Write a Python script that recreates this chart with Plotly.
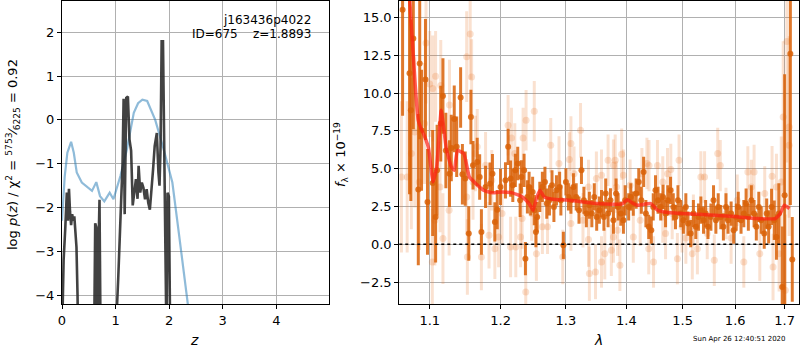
import plotly.graph_objects as go

# ---------------- left panel: p(z) ----------------
pz_z = [0.00, 0.03, 0.06, 0.09, 0.11, 0.13, 0.15, 0.17, 0.19, 0.21, 0.23, 0.25, 0.27, 0.29, 0.30,
        0.60, 0.62, 0.64, 0.66, 0.68, 0.70, 0.72,
        1.00, 1.05, 1.10, 1.13, 1.15, 1.17, 1.20, 1.23, 1.26, 1.29, 1.32, 1.35, 1.38, 1.41, 1.43,
        1.46, 1.49, 1.52, 1.55, 1.58, 1.61, 1.64, 1.67, 1.70, 1.73, 1.77, 1.80, 1.82, 1.84, 1.86,
        1.885, 1.91, 1.93, 1.95, 1.97, 1.995, 2.02]
pz_logp = [-5.0, -3.2, -2.5, -1.66, -2.3, -1.57, -2.1, -2.4, -2.15, -2.3, -2.2, -2.65, -2.9, -4.0, -5.0,
           -5.0, -2.36, -2.45, -5.0, -3.0, -1.82, -5.0,
           -5.0, -3.6, -2.0, -1.0, 0.48, -2.15, 0.50, 0.53, -0.45, -0.7, -1.95, -1.65, -1.35, -1.8, -1.05,
           -1.66, -1.43, -1.55, -1.81, -1.58, -1.89, -2.05, -1.66, -1.13, -0.6, -0.3, -1.2, -1.5, -0.6, 1.79,
           1.79, -0.98, -4.0, -5.0, -1.66, -1.75, -5.0]

prior_z = [0.00, 0.05, 0.10, 0.17, 0.22, 0.275, 0.37, 0.46, 0.56, 0.64, 0.71, 0.79, 0.89, 0.96,
           1.09, 1.21, 1.34, 1.42, 1.50, 1.59, 1.74, 1.90, 2.06, 2.18, 2.34, 2.40]
prior_logp = [-2.3, -1.3, -0.75, -0.50, -0.75, -1.20, -1.43, -1.53, -1.62, -1.42, -1.74, -1.86, -1.66, -1.81,
              -1.28, -0.68, 0.16, 0.38, 0.46, 0.43, 0.0, -0.68, -1.43, -2.57, -4.16, -4.7]

pz_xticks = [0, 1, 2, 3, 4]
pz_yticks = [-4, -3, -2, -1, 0, 1, 2]

# ---------------- right panel: spectrum ----------------
dark_lam = [1.064, 1.0731, 1.0748, 1.0781, 1.0847, 1.0866, 1.089, 1.0943, 1.097, 1.104, 1.108, 1.110,
            1.115, 1.118, 1.122, 1.127, 1.1295, 1.1336, 1.137, 1.1425, 1.145, 1.149, 1.154, 1.157,
            1.160, 1.166, 1.1695, 1.172, 1.178, 1.1845, 1.188, 1.1915, 1.195,
            1.1998, 1.2071, 1.2111, 1.2147, 1.218, 1.2218, 1.2254, 1.229, 1.231, 1.235, 1.237, 1.240,
            1.2426, 1.245, 1.248, 1.2505, 1.253, 1.255, 1.259, 1.263, 1.267, 1.2698, 1.274, 1.278,
            1.281, 1.285, 1.290, 1.292, 1.296, 1.300, 1.304, 1.308, 1.312, 1.3165, 1.321, 1.325,
            1.329, 1.333, 1.338, 1.342, 1.346, 1.350, 1.3545,
            1.358, 1.362, 1.365, 1.369, 1.373, 1.378, 1.3825, 1.386, 1.3905, 1.395, 1.398, 1.404,
            1.4077, 1.412, 1.417, 1.4215, 1.426, 1.430, 1.434, 1.439, 1.4435, 1.447, 1.451, 1.4555,
            1.4603, 1.4645, 1.469, 1.473, 1.478, 1.483, 1.487, 1.4915, 1.4965, 1.5015, 1.506, 1.510,
            1.515, 1.520, 1.5245, 1.5295, 1.534,
            1.539, 1.543, 1.5475, 1.553, 1.558, 1.5625, 1.567, 1.572, 1.577, 1.582, 1.586, 1.592,
            1.597, 1.602, 1.606, 1.6115, 1.617, 1.6215, 1.626, 1.632, 1.6375, 1.642, 1.647, 1.652,
            1.658, 1.663, 1.667, 1.673, 1.6785, 1.683, 1.688, 1.695, 1.700, 1.712, 1.716]
dark_flux = [15.5, 11.3, 8.86, 13.6, 3.62, 11.95, 7.54, 10.9, 2.8, 4.05, 1.8, 4.9,
             7.98, 9.8, 6.2, 4.67, 6.37, 8.29, 6.44, 9.7, 4.63, 4.34, 0.71, 8.42,
             5.22, 5.44, 4.45, 0.81, 3.79, 4.0, 4.67, 1.48, 2.29,
             3.79, 4.23, 6.44, 4.34, 3.9, 4.89, 5.34, 2.91, 4.45, 4.89, -0.95, 3.13,
             3.79, 2.91, 3.46, 2.25, 0.81, 1.8, 3.13, 3.79, 4.12, 2.69, 2.91, 3.9,
             2.47, 3.57, 3.79, 2.91, -0.07, 4.12, 3.13, 2.91, 3.79, 3.13, 2.25, 4.89,
             2.91, 2.03, 2.58, 2.03, 3.13, 1.8, 2.25,
             2.69, 1.8, 3.35, 2.03, 2.91, 1.59, 3.35, 2.47, 2.03, 1.59, 2.91, 2.47,
             3.13, 2.69, 3.35, 4.12, 2.91, 4.78, 2.03, 1.15, 0.93, 2.47, 3.57, 2.91,
             2.47, 3.13, 2.03, 2.91, 3.57, 2.47, 1.8, 2.91, 2.03, 1.59, 2.47, 1.37,
             0.71, 2.03, 1.15, 1.8, 2.25,
             1.59, 2.03, 1.15, 1.8, 2.91, 1.59, 2.47, 1.8, 1.15, 2.47, 1.59, 2.03,
             0.93, 1.8, 2.47, 1.59, 2.03, 2.69, 1.8, 2.91, 2.03, 1.15, 2.47, 1.59,
             0.71, 2.03, 1.15, 2.47, 1.59, 0.48, 2.03, -2.82, 3.24, 12.6, -1.0]
dark_err = [7.0, 8.0, 6.0, 6.0, 5.0, 5.0, 4.0, 4.0, 3.5, 3.5, 3.0, 3.0,
            2.5, 2.5, 2.5, 2.2, 2.2, 2.2, 2.0, 2.0, 2.0, 1.8, 1.8, 1.8,
            1.6, 1.6, 1.5, 1.5, 1.4, 1.4, 1.3, 1.3, 1.3,
            1.2, 1.2, 1.2, 1.2, 1.1, 1.1, 1.1, 1.1, 1.1, 1.1, 1.1, 1.1,
            1.0, 1.0, 1.0, 1.0, 1.0, 1.0, 1.0, 1.0, 1.0, 1.0, 1.0, 1.0,
            1.0, 1.0, 1.0, 1.0, 0.9, 0.9, 0.9, 0.9, 0.9, 0.9, 0.9, 0.9,
            0.9, 0.9, 0.9, 0.9, 0.9, 0.9, 0.9,
            0.9, 0.9, 1.0, 0.9, 0.8, 0.9, 1.0, 0.9, 0.8, 0.9, 1.0, 0.9,
            0.9, 0.8, 1.0, 0.9, 0.9, 1.0, 0.9, 0.8, 0.9, 0.9, 1.0, 0.9,
            0.9, 0.8, 0.9, 1.0, 0.9, 0.9, 0.8, 1.0, 0.9, 0.9, 0.9, 0.8,
            0.9, 0.9, 0.8, 0.9, 0.9,
            0.9, 0.9, 0.8, 0.9, 1.0, 0.9, 0.9, 0.8, 0.9, 0.9, 0.9, 0.8,
            0.9, 0.9, 1.0, 0.9, 0.9, 1.0, 0.9, 1.0, 0.9, 0.9, 1.0, 0.9,
            1.0, 1.0, 1.1, 1.2, 1.3, 1.5, 2.0, 4.0, 8.0, 10.0, 2.8]

light_lam = [1.0625, 1.070, 1.0755, 1.080, 1.086, 1.093, 1.095, 1.100, 1.1035, 1.104, 1.107, 1.108,
             1.114, 1.115, 1.118, 1.1265, 1.127, 1.151, 1.151, 1.152, 1.156, 1.158, 1.160, 1.1635,
             1.166, 1.172, 1.178, 1.183, 1.187, 1.1915, 1.197, 1.202, 1.211, 1.2147, 1.216, 1.221,
             1.2225, 1.2297, 1.232, 1.2335, 1.2375, 1.238, 1.2465, 1.2505, 1.2538, 1.263, 1.271, 1.276,
             1.289, 1.295, 1.3055, 1.308, 1.308, 1.313, 1.3235, 1.3275, 1.3365, 1.3365, 1.338, 1.348,
             1.3495, 1.358, 1.358, 1.3635, 1.369, 1.3745, 1.378, 1.378, 1.381, 1.383, 1.385, 1.389,
             1.392, 1.395, 1.4065, 1.412, 1.424, 1.427, 1.4358, 1.439, 1.4395, 1.4475, 1.4545, 1.464,
             1.464, 1.469, 1.4725, 1.4785, 1.481, 1.4905, 1.4935, 1.499, 1.506, 1.518, 1.520, 1.5275,
             1.534, 1.541, 1.546, 1.5595, 1.566, 1.571, 1.582, 1.592, 1.604, 1.617, 1.625, 1.632,
             1.6375, 1.649, 1.659, 1.674, 1.676, 1.683, 1.6885, 1.693, 1.697, 1.7015, 1.7047, 1.7095,
             1.7095]
light_flux = [4.45, 4.45, 6.0, 7.43, 4.12, 7.98, 13.3, 10.6, -1.17, 10.3, 1.59, 11.1,
              3.79, 10.5, 0.38, 2.25, 9.2, 12.4, 3.13, -0.84, 13.9, 11.06, 4.12, 6.0,
              6.44, -0.84, 5.22, 0.6, 4.23, -0.29, 0.48, 2.03, 7.87, -0.18, 7.03, 6.0,
              -0.18, 0.48, 1.7, 7.03, -3.15, 8.2, 2.03, 8.8, -0.62, 1.15, 1.15, 6.55,
              5.34, -0.84, 5.6, 6.66, 1.37, 4.67, 7.54, 1.59, 0.31, 3.79, -1.94, -1.83,
              4.34, 4.56, -1.17, -0.62, 5.56, -0.4, 5.22, 0.48, 5.56, 3.79, 0.93, -1.39,
              5.95, 4.56, 3.9, 0.48, 1.59, 4.67, 5.34, -0.29, 5.2, -1.17, 5.2, 4.12,
              1.8, 0.71, 4.67, 4.95, 2.03, -0.95, 5.56, 1.15, 0.41, -0.62, 1.59, -0.29,
              4.45, 4.45, 0.71, -1.06, 6.0, 5.2, 2.03, 0.41, 2.91, -1.17, 4.78, 3.79,
              4.78, -0.62, 3.35, 4.5, -1.5, 3.79, -0.62, 4.12, 8.42, -3.04, 13.4, 7.76,
              6.55]
light_err = [5.0, 5.0, 5.0, 5.0, 4.5, 4.0, 4.0, 3.5, 3.5, 3.5, 3.0, 3.0,
             3.0, 3.0, 3.0, 3.0, 3.0, 3.0, 2.5, 2.5, 3.0, 2.5, 2.5, 2.5,
             2.5, 2.2, 2.2, 2.2, 2.0, 2.0, 2.0, 2.0, 2.0, 2.0, 2.0, 2.0,
             2.0, 2.0, 2.0, 2.0, 2.0, 2.0, 1.8, 2.0, 1.8, 1.8, 1.8, 1.8,
             1.8, 1.8, 1.8, 1.8, 1.8, 1.8, 1.8, 1.8, 1.8, 1.8, 1.8, 1.8,
             1.8, 1.7, 1.7, 1.7, 1.7, 1.7, 1.7, 1.7, 1.7, 1.7, 1.7, 1.7,
             1.7, 1.7, 1.7, 1.7, 1.7, 1.7, 1.7, 1.7, 1.7, 1.7, 1.7, 1.7,
             1.7, 1.7, 1.7, 1.7, 1.7, 1.7, 1.7, 1.7, 1.7, 1.7, 1.7, 1.7,
             1.7, 1.7, 1.7, 1.7, 1.7, 1.7, 1.7, 1.7, 1.7, 1.7, 1.7, 1.8,
             1.8, 1.8, 1.8, 2.0, 2.2, 2.2, 2.5, 3.0, 5.0, 5.0, 8.0, 6.0,
             6.0]

model_lam = [1.0700, 1.0737, 1.0805, 1.0846, 1.0888, 1.0917, 1.0982, 1.1045, 1.1094, 1.1156, 1.1183,
             1.1227, 1.1296, 1.1337, 1.1380, 1.1470, 1.1548, 1.1642, 1.1750, 1.1879, 1.2025, 1.2173,
             1.2323, 1.2425, 1.2487, 1.2538, 1.2590, 1.2657, 1.2790, 1.3060, 1.3500, 1.3840, 1.3930,
             1.4017, 1.4104, 1.4191, 1.4427, 1.4547, 1.4730, 1.5290, 1.5910, 1.6433, 1.6805, 1.6909,
             1.6993, 1.7100]
model_flux = [19.0, 15.9, 10.6, 8.2, 7.6, 7.3, 6.4, 4.12, 5.11, 8.86, 7.98,
              6.3, 5.11, 4.89, 6.2, 6.0, 4.45, 4.0, 3.57, 3.4, 3.46, 3.4,
              3.13, 2.69, 2.25, 3.02, 3.57, 3.13, 2.98, 2.91, 2.69, 2.65, 2.67,
              2.95, 2.73, 2.58, 2.69, 2.25, 2.1, 1.98, 1.85, 1.7, 1.7, 2.03,
              2.58, 2.36]

sp_xticks = [1.1, 1.2, 1.3, 1.4, 1.5, 1.6, 1.7]
sp_xticklabels = ["1.1", "1.2", "1.3", "1.4", "1.5", "1.6", "1.7"]
sp_yticks = [-2.5, 0.0, 2.5, 5.0, 7.5, 10.0, 12.5, 15.0]
sp_yticklabels = ["\u22122.5", "0.0", "2.5", "5.0", "7.5", "10.0", "12.5", "15.0"]

DARK = "rgba(217,98,8,0.85)"
LIGHT = "rgba(230,120,40,0.22)"

fig = go.Figure()

fig.add_trace(go.Scatter(x=prior_z, y=prior_logp, mode="lines",
                         line=dict(color="rgba(31,119,180,0.5)", width=2.2),
                         xaxis="x", yaxis="y", showlegend=False))
fig.add_trace(go.Scatter(x=pz_z, y=pz_logp, mode="lines",
                         line=dict(color="rgba(40,40,40,0.88)", width=2.6),
                         xaxis="x", yaxis="y", showlegend=False))

fig.add_trace(go.Scatter(x=light_lam, y=light_flux, mode="markers",
                         marker=dict(color=LIGHT, size=7),
                         error_y=dict(type="data", array=light_err, color=LIGHT, thickness=3, width=0),
                         xaxis="x2", yaxis="y2", showlegend=False))
fig.add_trace(go.Scatter(x=dark_lam, y=dark_flux, mode="markers",
                         marker=dict(color=DARK, size=6),
                         error_y=dict(type="data", array=dark_err, color=DARK, thickness=3, width=0),
                         xaxis="x2", yaxis="y2", showlegend=False))
fig.add_trace(go.Scatter(x=model_lam, y=model_flux, mode="lines",
                         line=dict(color="rgba(255,30,20,0.7)", width=3.5, shape="spline", smoothing=0.4),
                         xaxis="x2", yaxis="y2", showlegend=False))

axcommon = dict(showgrid=True, gridcolor="#b0b0b0", gridwidth=1, showline=True, linecolor="black",
                linewidth=1.2, mirror=True, ticks="outside", ticklen=4, tickcolor="black",
                zeroline=False, automargin=False,
                tickfont=dict(family="DejaVu Sans", size=13, color="black"))

fig.update_layout(
    width=800, height=350,
    margin=dict(l=0, r=0, t=0, b=0, autoexpand=False),
    paper_bgcolor="white", plot_bgcolor="white",
    font=dict(family="DejaVu Sans", size=13, color="black"),
    xaxis=dict(domain=[0.0775, 0.411], range=[0, 4.98], tickvals=pz_xticks, anchor="y", **axcommon),
    yaxis=dict(domain=[0.1314, 0.997], range=[-4.2, 2.71], tickvals=pz_yticks,
               ticktext=["\u22124", "\u22123", "\u22122", "\u22121", "0", "1", "2"], anchor="x", **axcommon),
    xaxis2=dict(domain=[0.4991, 0.9991], type="log", range=[0.02518, 0.23825], tickvals=sp_xticks,
                ticktext=sp_xticklabels, anchor="y2", **axcommon),
    yaxis2=dict(domain=[0.1314, 0.997], range=[-3.95, 16.08], tickvals=sp_yticks,
                ticktext=sp_yticklabels, anchor="x2", **axcommon),
    shapes=[dict(type="line", xref="x2 domain", x0=0, x1=1, yref="y2", y0=0, y1=0,
                 line=dict(color="black", width=1.6, dash="dot"))],
)

ann = []
ann.append(dict(text="j163436p4022", xref="paper", yref="paper", x=313/800, y=1-20/350,
                xanchor="right", yanchor="middle", showarrow=False, font=dict(size=12)))
ann.append(dict(text="ID=675    z=1.8893", xref="paper", yref="paper", x=313/800, y=1-34/350,
                xanchor="right", yanchor="middle", showarrow=False, font=dict(size=12)))
ann.append(dict(text="log <i>p</i>(<i>z</i>) / \u03c7<sup>2</sup> = <sup>5753</sup>\u2044<sub>6225</sub> = 0.92",
                xref="paper", yref="paper", x=13/800, y=1-155/350, textangle=-90,
                xanchor="center", yanchor="middle", showarrow=False, font=dict(size=13)))
ann.append(dict(text="<i>f</i><sub>\u03bb</sub> \u00d7 10<sup>\u221219</sup>",
                xref="paper", yref="paper", x=341/800, y=1-155/350, textangle=-90,
                xanchor="center", yanchor="middle", showarrow=False, font=dict(size=13)))
ann.append(dict(text="<i>z</i>", xref="paper", yref="paper", x=194/800, y=1-340/350,
                xanchor="center", yanchor="middle", showarrow=False, font=dict(size=14)))
ann.append(dict(text="<i>\u03bb</i>", xref="paper", yref="paper", x=598/800, y=1-340/350,
                xanchor="center", yanchor="middle", showarrow=False, font=dict(size=14)))
ann.append(dict(text="Sun Apr 26 12:40:51 2020", xref="paper", yref="paper", x=788/800, y=1-339/350,
                xanchor="right", yanchor="middle", showarrow=False, font=dict(size=7)))
fig.update_layout(annotations=ann)

fig.write_html("out.html", config={"displayModeBar": False},
               post_script="document.body.style.margin='0';document.body.style.padding='0';document.body.style.overflow='hidden';")
